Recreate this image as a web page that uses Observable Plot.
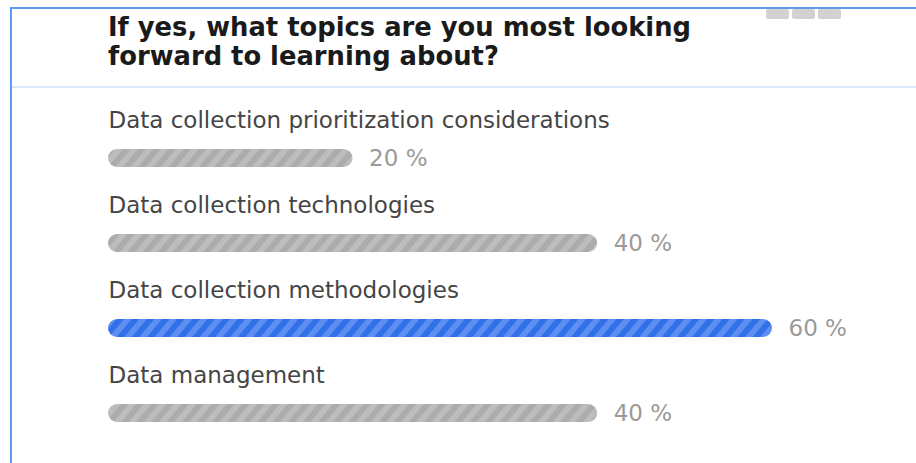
<!DOCTYPE html>
<html>
<head>
<meta charset="utf-8">
<script src="https://cdn.jsdelivr.net/npm/d3@7"></script>
<script src="https://cdn.jsdelivr.net/npm/@observablehq/plot@0.6"></script>
<style>
  html, body { margin: 0; padding: 0; background: #fff; width: 916px; height: 463px; overflow: hidden; }
  #frame { position: absolute; left: 10px; top: 7px; right: -4px; bottom: -4px;
           border-top: 2px solid #5c9cf0; border-left: 2px solid #5c9cf0; }
  .btn { position: absolute; top: 9px; width: 23px; height: 10px; background: #d2d2d2; border-radius: 2px; }
  #title { position: absolute; left: 108px; top: 13px; margin: 0;
           font-family: "DejaVu Sans", sans-serif; font-weight: bold;
           font-size: 25.8px; line-height: 29px; color: #1a1a1a; }
  #sep { position: absolute; left: 12px; right: 0; top: 86px; height: 2px; background: #dde9f8; }
  #chart { position: absolute; left: 0; top: 88px; }
</style>
</head>
<body>
<div id="frame"></div>
<div class="btn" style="left:766px"></div>
<div class="btn" style="left:792px"></div>
<div class="btn" style="left:818px"></div>
<h2 id="title">If yes, what topics are you most looking<br>forward to learning about?</h2>
<div id="sep"></div>
<div id="chart"></div>
<script>
const categories = [
  "Data collection prioritization considerations",
  "Data collection technologies",
  "Data collection methodologies",
  "Data management"
];
const percents = [20, 40, 60, 40];
const pctLabels = ["20 %", "40 %", "60 %", "40 %"];

const data = categories.map((c, i) => ({category: c, pct: percents[i], label: pctLabels[i]}));
const maxPct = d3.max(percents);

const font = '"DejaVu Sans", sans-serif';

const chart = Plot.plot({
  width: 916,
  height: 375,
  margin: 0,
  style: {fontFamily: font, background: "transparent", overflow: "visible"},
  x: {domain: [0, 54.3], range: [108, 772], clamp: true, axis: null},
  y: {domain: categories, range: [25.5, 368.5], paddingInner: 0.79, paddingOuter: 0.395, axis: null},
  marks: [
    Plot.barX(data.filter(d => d.pct !== maxPct), {x: "pct", y: "category", fill: "url(#stripes-gray)", rx: 9}),
    Plot.barX(data.filter(d => d.pct === maxPct), {x: "pct", y: "category", fill: "url(#stripes-blue)", rx: 9}),
    Plot.text(data, {x: "pct", y: "category", text: "label", dx: 16, textAnchor: "start", fill: "#9a9a9a", fontSize: 23}),
    Plot.text(data, {x: () => 0, y: "category", text: "category", dy: -37.5, textAnchor: "start", fill: "#454545", fontSize: 23})
  ]
});

const svg = d3.select(chart);
const defs = svg.insert("defs", ":first-child");
function stripes(id, base, light) {
  const p = defs.append("pattern").attr("id", id).attr("patternUnits", "userSpaceOnUse")
    .attr("width", 11.6).attr("height", 11.6).attr("patternTransform", "rotate(40)");
  p.append("rect").attr("width", 11.6).attr("height", 11.6).attr("fill", base);
  p.append("rect").attr("width", 5.8).attr("height", 11.6).attr("fill", light);
}
stripes("stripes-gray", "#acacac", "#bdbdbd");
stripes("stripes-blue", "#3170e8", "#5c8ff0");

document.getElementById("chart").appendChild(chart);
</script>
</body>
</html>
